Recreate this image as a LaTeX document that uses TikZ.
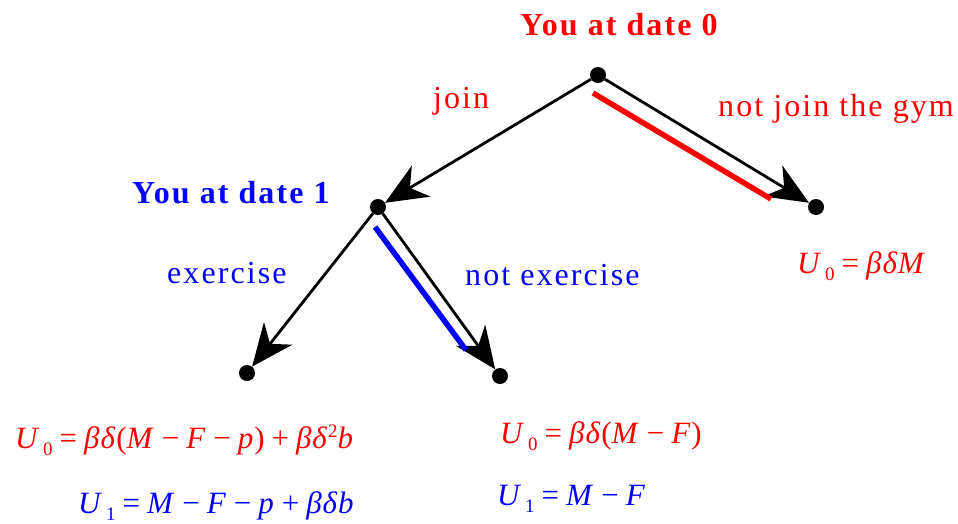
\documentclass[tikz,border=0pt]{standalone}
\usepackage{fontspec}
\setmainfont{Liberation Serif}
\newfontfamily\tf[LetterSpace=6.5]{Liberation Serif}
\newfontfamily\ef[LetterSpace=3]{Liberation Serif}
\usetikzlibrary{arrows.meta,calc}
\definecolor{myred}{RGB}{255,0,0}
\definecolor{myblue}{RGB}{0,0,255}
\newcommand\Usub[1]{\textit{U}\kern3pt\raisebox{-7pt}{\fontsize{19}{19}\selectfont #1}}
\newcommand\op[1]{\hspace*{7pt}#1\hspace*{7pt}}
\begin{document}
\begin{tikzpicture}[x=1pt,y=-1pt,
  dot/.style={circle,fill=black,inner sep=0pt,minimum size=16pt},
  lbl/.style={font=\tf\fontsize{32}{32}\selectfont,anchor=base west,inner sep=0pt},
  eq/.style={font=\ef\fontsize{31}{31}\selectfont,anchor=base west,inner sep=0pt},
  arr/.style={line width=2.8pt,-{Stealth[length=42pt,width=36pt,inset=13pt]}},
  path/.style={line width=5.5pt}]
\useasboundingbox (0,0) rectangle (958,523);
\node[dot] (root) at (598,75) {};
\node[dot] (d1) at (378,207) {};
\node[dot] (nj) at (816,207) {};
\node[dot] (ex) at (247,373) {};
\node[dot] (nex) at (500,376) {};
\draw[arr] (root) -- (d1);
\draw[arr] (root) -- (nj);
\draw[arr] (d1) -- (ex);
\draw[arr] (d1) -- (nex);
\draw[path,myred] ($(root)+(-5,18)$) -- ($(nj)+(-45,-8)$);
\draw[path,myblue] ($(d1)+(-3,20)$) -- ($(nex)+(-34,-26)$);
\node[lbl,myred,font=\tf\bfseries\fontsize{32}{32}\selectfont] (t0) at (520,35) {You at date 0};
\node[lbl,myblue,font=\tf\bfseries\fontsize{32}{32}\selectfont] (t1) at (132,203) {You at date 1};
\node[lbl,myred] (lj) at (433,108) {join};
\node[lbl,myred] (lnj) at (718,116) {not join the gym};
\node[lbl,myblue] (lex) at (167,283) {exercise};
\node[lbl,myblue] (lnex) at (465,285) {not exercise};
\node[eq,myred] (e1) at (797,273) {\Usub{0}\op{=}\textit{βδM}};
\node[eq,myred] (e2) at (15,448) {\Usub{0}\op{=}\textit{βδ}(\textit{M}\op{−}\textit{F}\op{−}\textit{p})\op{+}\textit{βδ}\raisebox{11pt}{\fontsize{19}{19}\selectfont 2}\textit{b}};
\node[eq,myblue] (e3) at (78,513) {\Usub{1}\op{=}\textit{M}\op{−}\textit{F}\op{−}\textit{p}\op{+}\textit{βδb}};
\node[eq,myred] (e4) at (500,443) {\Usub{0}\op{=}\textit{βδ}(\textit{M}\op{−}\textit{F})};
\node[eq,myblue] (e5) at (497,505) {\Usub{1}\op{=}\textit{M}\op{−}\textit{F}};
\end{tikzpicture}
\end{document}
